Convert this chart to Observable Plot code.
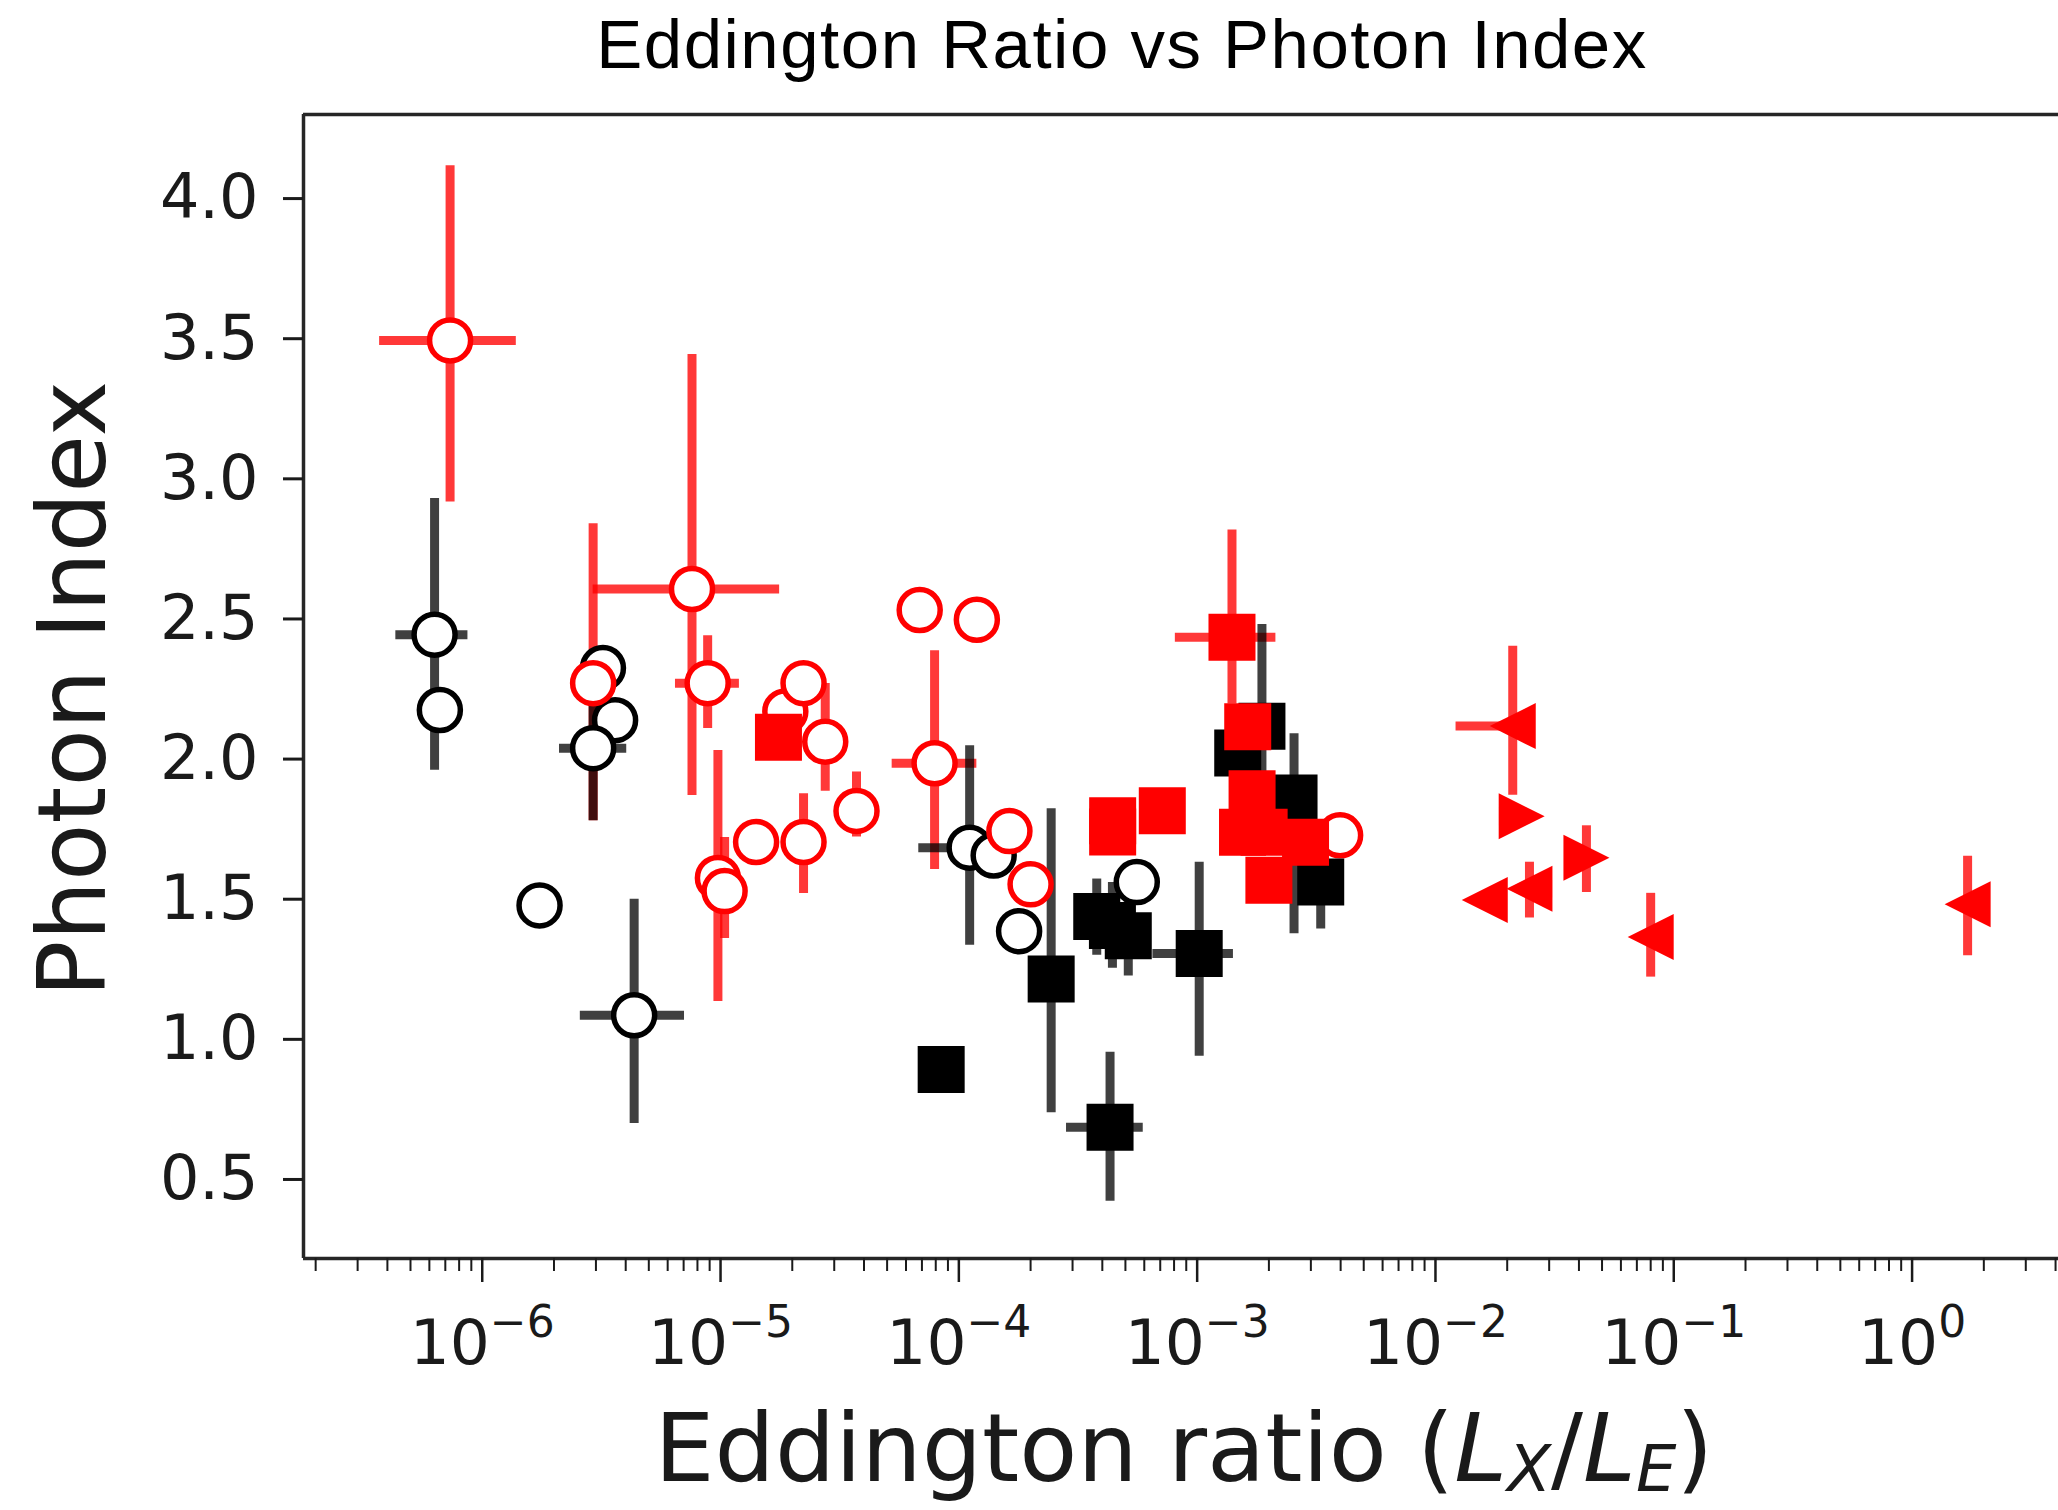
<!DOCTYPE html>
<html>
<head>
<meta charset="utf-8">
<script src="https://cdn.jsdelivr.net/npm/d3@7"></script>
<script src="https://cdn.jsdelivr.net/npm/@observablehq/plot@0.6"></script>
<style>
  html, body { margin: 0; padding: 0; background: #fff; overflow: hidden; }
</style>
</head>
<body>
<div id="chart"></div>
<script>
// ---------------- DATA ----------------
// each row: [x, y, xLow, xHigh, yLow, yHigh]  (null = no error bar)
const blackCircles = [
  [6.31e-7, 2.444, 4.34e-7, 8.71e-7, 1.96, 2.93],
  [6.64e-7, 2.175, null, null, null, null],
  [3.21e-6, 2.325, null, null, null, null],
  [3.61e-6, 2.139, null, null, null, null],
  [2.92e-6, 2.039, 2.11e-6, 4.04e-6, 1.78, 2.20],
  [1.74e-6, 1.478, null, null, 1.43, 1.53],
  [4.34e-6, 1.086, 2.58e-6, 7.06e-6, 0.70, 1.50],
  [1.11e-4, 1.684, 6.79e-5, 1.82e-4, 1.336, 2.048],
  [1.40e-4, 1.656, null, null, null, null],
  [1.79e-4, 1.386, null, null, null, null],
  [5.58e-4, 1.561, null, null, 1.50, 1.60]
];
const redCircles = [
  [7.33e-7, 3.494, 3.71e-7, 1.39e-6, 2.917, 4.117],
  [7.59e-6, 2.607, 2.92e-6, 1.77e-5, 1.87, 3.444],
  [2.92e-6, 2.271, null, null, 1.78, 2.84],
  [8.83e-6, 2.271, 6.47e-6, 1.20e-5, 2.109, 2.44],
  [9.75e-6, 1.576, null, null, 1.135, 2.031],
  [1.04e-5, 1.529, null, null, 1.36, 1.72],
  [1.41e-5, 1.704, null, null, null, null],
  [1.87e-5, 2.17, null, null, null, null],
  [2.23e-5, 2.271, null, null, null, null],
  [2.75e-5, 2.062, null, null, 1.885, 2.27],
  [2.23e-5, 1.704, null, null, 1.52, 1.876],
  [3.72e-5, 1.815, null, null, 1.722, 1.954],
  [7.91e-5, 1.985, 5.25e-5, 1.19e-4, 1.606, 2.387],
  [6.85e-5, 2.532, null, null, null, null],
  [1.19e-4, 2.497, null, null, null, null],
  [1.63e-4, 1.743, null, null, null, null],
  [2.00e-4, 1.553, null, null, null, null],
  [3.98e-3, 1.728, null, null, null, null]
];
const blackSquares = [
  [8.43e-5, 0.892, null, null, 0.87, 0.92],
  [2.44e-4, 1.215, null, null, 0.738, 1.823],
  [4.31e-4, 0.686, 2.83e-4, 5.94e-4, 0.422, 0.954],
  [3.79e-4, 1.438, null, null, 1.30, 1.572],
  [4.41e-4, 1.406, null, null, 1.254, 1.56],
  [5.14e-4, 1.37, null, null, 1.226, 1.51],
  [1.02e-3, 1.306, 6.52e-4, 1.42e-3, 0.94, 1.632],
  [1.48e-3, 2.022, null, null, null, null],
  [1.87e-3, 2.117, null, null, 1.76, 2.48],
  [2.55e-3, 1.861, null, null, 1.377, 2.09],
  [3.30e-3, 1.561, null, null, 1.394, 1.70]
];
const redSquares = [
  [1.75e-5, 2.078, null, null, null, null],
  [4.42e-4, 1.78, null, null, null, null],
  [4.42e-4, 1.74, null, null, null, null],
  [7.14e-4, 1.816, null, null, null, null],
  [1.40e-3, 2.435, 8.1e-4, 2.14e-3, 2.197, 2.817],
  [1.63e-3, 2.115, null, null, null, null],
  [1.70e-3, 1.876, null, null, null, null],
  [1.55e-3, 1.739, null, null, null, null],
  [1.91e-3, 1.739, null, null, null, null],
  [2.00e-3, 1.568, null, null, 1.52, 1.60],
  [2.85e-3, 1.703, null, null, null, null]
];
const redTrianglesLeft = [
  [2.11e-2, 2.118, 1.22e-2, 2.6e-2, 1.871, 2.403],
  [1.61e-2, 1.497, null, null, null, null],
  [2.48e-2, 1.537, null, null, 1.433, 1.632],
  [8.0e-2, 1.365, null, null, 1.222, 1.521],
  [1.71, 1.482, null, null, 1.298, 1.653]
];
const redTrianglesRight = [
  [2.3e-2, 1.796, null, null, null, null],
  [4.3e-2, 1.648, null, null, 1.524, 1.762]
];

const yTicks = [0.5, 1.0, 1.5, 2.0, 2.5, 3.0, 3.5, 4.0];
const xMajorExponents = [-6, -5, -4, -3, -2, -1, 0];
const titleText = "Eddington Ratio vs Photon Index";
const yLabelText = "Photon Index";

// ---------------- LAYOUT ----------------
const W = 2058, H = 1510;
const mTop = 114, mBottom = 252, mLeft = 303;
const xDomain = [Math.pow(10, -6.750), Math.pow(10, 0.6144)];
const yDomain = [0.218, 4.30];

const toRows = (arr) => arr.map(([x, y, xlo, xhi, ylo, yhi]) => ({x, y, xlo, xhi, ylo, yhi}));
const BC = toRows(blackCircles), RC = toRows(redCircles), BS = toRows(blackSquares),
      RS = toRows(redSquares), TL = toRows(redTrianglesLeft), TR = toRows(redTrianglesRight);
const redAll = [...RC, ...RS, ...TL, ...TR];
const blackAll = [...BC, ...BS];

const xMajor = xMajorExponents.map(e => Math.pow(10, e));
const xMinor = [];
for (let e = -7; e <= 0; e++) for (let m = 2; m <= 9; m++) {
  const v = m * Math.pow(10, e);
  if (v >= xDomain[0] && v <= xDomain[1]) xMinor.push(v);
}

const RED_BAR = "rgb(255,0,0)", BLACK_BAR = "rgb(0,0,0)";
const barW = 9;

const hasY = r => r.ylo != null;
const hasX = r => r.xlo != null;

const squareSym = {draw(ctx, size) { const h = Math.sqrt(size / Math.PI);
  ctx.moveTo(-h, -h); ctx.lineTo(h, -h); ctx.lineTo(h, h); ctx.lineTo(-h, h); ctx.closePath(); }};
const triLeftSym = {draw(ctx, size) { const h = Math.sqrt(size / Math.PI);
  ctx.moveTo(-h, 0); ctx.lineTo(h, -h); ctx.lineTo(h, h); ctx.closePath(); }};
const triRightSym = {draw(ctx, size) { const h = Math.sqrt(size / Math.PI);
  ctx.moveTo(h, 0); ctx.lineTo(-h, -h); ctx.lineTo(-h, h); ctx.closePath(); }};

const plot = Plot.plot({
  width: W, height: H,
  marginTop: mTop, marginBottom: mBottom, marginLeft: mLeft, marginRight: 0,
  style: {fontFamily: "DejaVu Sans", background: "white", color: "#1a1a1a"},
  x: {type: "log", domain: xDomain},
  y: {domain: yDomain},
  marks: [
    // error bars (drawn beneath all markers)
    Plot.ruleY(redAll.filter(hasX), {y: "y", x1: "xlo", x2: "xhi", stroke: RED_BAR, strokeOpacity: 0.78, strokeWidth: barW}),
    Plot.ruleX(redAll.filter(hasY), {x: "x", y1: "ylo", y2: "yhi", stroke: RED_BAR, strokeOpacity: 0.78, strokeWidth: barW}),
    Plot.ruleY(blackAll.filter(hasX), {y: "y", x1: "xlo", x2: "xhi", stroke: BLACK_BAR, strokeOpacity: 0.75, strokeWidth: barW}),
    Plot.ruleX(blackAll.filter(hasY), {x: "x", y1: "ylo", y2: "yhi", stroke: BLACK_BAR, strokeOpacity: 0.75, strokeWidth: barW}),
    // markers
    Plot.dot(BC, {x: "x", y: "y", r: 20.5, fill: "white", stroke: "black", strokeWidth: 5.5}),
    Plot.dot(RC, {x: "x", y: "y", r: 20.5, fill: "white", stroke: "red", strokeWidth: 5.5}),
    Plot.dot(BS, {x: "x", y: "y", r: 23.5, symbol: squareSym, fill: "black", stroke: "none"}),
    Plot.dot(RS, {x: "x", y: "y", r: 23.5, symbol: squareSym, fill: "red", stroke: "none"}),
    Plot.dot(TL, {x: "x", y: "y", r: 23, symbol: triLeftSym, fill: "red", stroke: "none"}),
    Plot.dot(TR, {x: "x", y: "y", r: 23, symbol: triRightSym, fill: "red", stroke: "none"}),
    // axes frame (left, top, bottom)
    Plot.ruleX([xDomain[0]], {stroke: "#262626", strokeWidth: 3.5}),
    Plot.ruleY([yDomain[0]], {stroke: "#262626", strokeWidth: 3.5}),
    Plot.ruleY([yDomain[1]], {stroke: "#262626", strokeWidth: 3.5}),
    Plot.axisY({ticks: yTicks, tickSize: 20, tickPadding: 25, fontSize: 62,
      tickFormat: d => d.toFixed(1), label: null, strokeWidth: 3}),
    Plot.axisX({ticks: xMajor, tickSize: 24, tickPadding: 37, fontSize: 63,
      tickFormat: d => "10^" + Math.round(Math.log10(d)), label: null, strokeWidth: 2.5}),
    Plot.axisX({ticks: xMinor, tickSize: 13, tickFormat: () => "", label: null, strokeWidth: 2})
  ]
});

const NS = "http://www.w3.org/2000/svg";
// superscripted log tick labels
plot.querySelectorAll('g[aria-label="x-axis tick label"] text').forEach(t => {
  const m = /^10\^(-?\d+)$/.exec(t.textContent);
  if (!m) return;
  t.textContent = "10";
  const ts = document.createElementNS(NS, "tspan");
  ts.setAttribute("font-size", "44");
  ts.setAttribute("dy", "-27");
  ts.textContent = m[1].replace("-", "\u2212");
  t.appendChild(ts);
});

function addText(attrs, parts) {
  const t = document.createElementNS(NS, "text");
  for (const k in attrs) t.setAttribute(k, attrs[k]);
  for (const p of parts) {
    if (typeof p === "string") { t.appendChild(document.createTextNode(p)); continue; }
    const ts = document.createElementNS(NS, "tspan");
    for (const k in p.attrs) ts.setAttribute(k, p.attrs[k]);
    ts.textContent = p.text;
    t.appendChild(ts);
  }
  plot.appendChild(t);
  return t;
}

// title
addText({x: 1122, y: 68, "text-anchor": "middle", "font-family": "Liberation Sans, Arial, sans-serif",
  "font-size": 69, "letter-spacing": "1.5", fill: "#000"}, [titleText]);
// y label
addText({transform: "translate(105,689) rotate(-90)", "text-anchor": "middle",
  "font-family": "DejaVu Sans", "font-size": 94, fill: "#1a1a1a"}, [yLabelText]);
// x label with mathtext-like L_X / L_E
addText({x: 1184, y: 1481, "text-anchor": "middle", "font-family": "DejaVu Sans",
  "font-size": 95, fill: "#1a1a1a"}, [
  "Eddington ratio (",
  {text: "L", attrs: {"font-style": "italic"}},
  {text: "X", attrs: {"font-style": "italic", "font-size": 64, dy: 10}},
  {text: "/", attrs: {dy: -10}},
  {text: "L", attrs: {"font-style": "italic"}},
  {text: "E", attrs: {"font-style": "italic", "font-size": 64, dy: 10}},
  {text: ")", attrs: {dy: -10}}
]);

document.getElementById("chart").appendChild(plot);
</script>
</body>
</html>
